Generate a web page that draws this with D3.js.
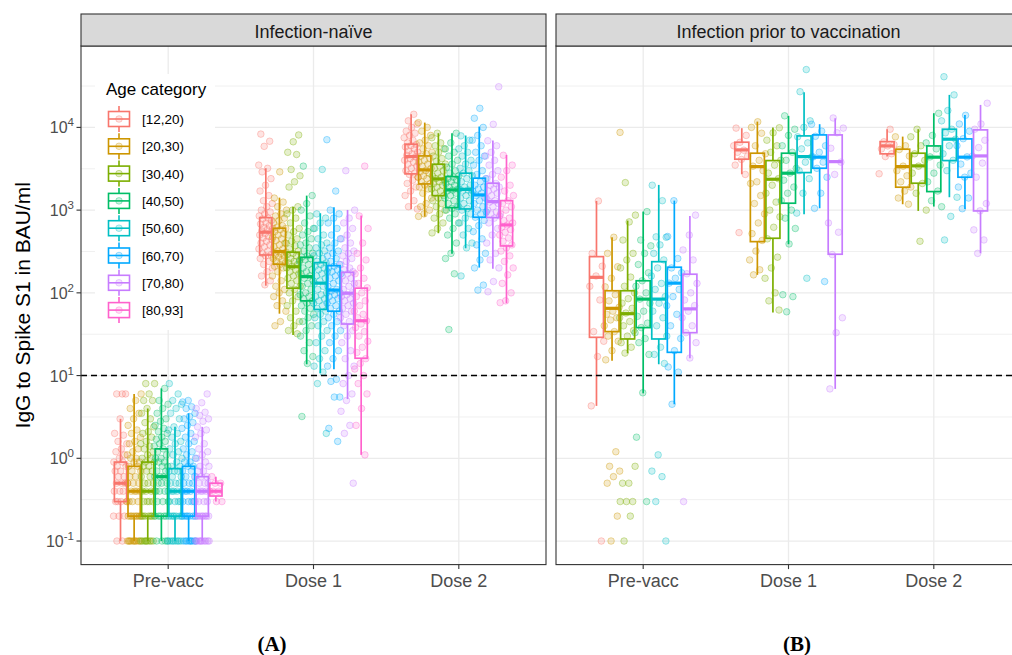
<!DOCTYPE html>
<html><head><meta charset="utf-8">
<script src="https://cdn.jsdelivr.net/npm/d3@7"></script>
<style>body{margin:0;background:#fff;} svg{display:block;font-family:"Liberation Sans",Arial,sans-serif;}</style>
</head><body><svg id="c" width="1012" height="655"></svg>
<script>
// ---------------- DATA ----------------
const ages = ["[12,20)","[20,30)","[30,40)","[40,50)","[50,60)","[60,70)","[70,80)","[80,93]"];
const times = ["Pre-vacc","Dose 1","Dose 2"];
const facets = ["Infection-naïve","Infection prior to vaccination"];
const panelTags = ["(A)","(B)"];
const ageColors = ["#F8766D","#CD9600","#7CAE00","#00BE67","#00BFC4","#00A9FF","#C77CFF","#FF61CC"];
const yTickValues = [0.1,1,10,100,1000,10000];
const yTickExp = ["-1","0","1","2","3","4"];
const threshold = 10;
const yTitle = "IgG to Spike S1 in BAU/ml";
const legendTitle = "Age category";

// box statistics [time][age]  (infection-naive, 8 age groups)
const naiveLo  = [[0.1,0.1,0.1,0.1,0.1,0.1,0.1,0.3],[122,56,31,13.7,10.7,11.9,5.2,1.1],[1026,834,526,296,346,202,195,75]];
const naiveQ1  = [[0.3,0.2,0.2,0.2,0.2,0.2,0.2,0.35],[287,222,114,80,63,60,42,16.2],[2741,2074,1496,1072,1033,820,812,369]];
const naiveMed = [[0.5,0.4,0.4,0.6,0.4,0.4,0.4,0.4],[541,316,207,157,131,108,99,46],[4436,3063,2384,1754,1780,1527,1268,662]];
const naiveQ3  = [[0.9,0.8,0.9,1.3,0.75,0.8,0.6,0.5],[811,604,310,269,232,213,177,114],[6266,4520,3589,2541,2794,2430,2115,1303]];
const naiveHi  = [[3,6,4,7,2.4,3.5,2.4,0.6],[3210,1416,1100,1497,917,1084,1005,859],[14450,11430,8510,8510,7980,10230,6920,4650]];

// box statistics [time][age]  (infection prior to vaccination, 7 age groups)
const priorLo  = [[4.3,15.1,18.6,6.1,13.7,4.5,16.2],[2716,165,58,387,892,1054,6.9],[4436,1178,978,1104,1432,1033,301]];
const priorQ1  = [[29,34,27.7,38,27.7,19.1,33],[4125,416,457,1212,2843,3210,293],[4790,1893,2115,1675,3970,2500,978]];
const priorMed = [[154,65,56,84,84,131,64],[5345,3357,2362,2794,4436,4365,3856],[5970,3357,3427,4365,7200,4365,4520]];
const priorQ3  = [[274,106,106,140,238,204,168],[6620,4875,3970,4875,7890,8110,8110],[6730,5450,4875,5970,9510,7260,9330]];
const priorHi  = [[1292,470,747,960,2018,1303,851],[9780,11750,9950,13770,26650,10930,12900],[9510,7740,9510,14850,24720,14160,18700]];

// individual observations (read approximately) [time][age]
const naivePts = [
 [
  [6,6,6,3,2,1.9,1.6,1.5,1.3,1.2,1.1,1,0.9,0.9,0.8,0.8,0.7,0.7,0.6,0.6,0.5,0.5,0.5,0.5,0.4,0.4,0.4,0.3,0.3,0.3,0.3,0.2,0.2,0.2,0.1,0.1],
  [6,5,4,3.5,3,2.5,2.2,2,1.8,1.6,1.5,1.3,1.2,1.1,1,1,0.9,0.9,0.8,0.8,0.7,0.7,0.6,0.6,0.5,0.5,0.5,0.4,0.4,0.4,0.4,0.3,0.3,0.3,0.3,0.2,0.2,0.2,0.2,0.2,0.2,0.2,0.2,0.1,0.1,0.1,0.1,0.1,0.1,0.1,0.1,0.1,0.1],
  [8,8,6,5,5,4,3.5,3,2.7,2.4,2.1,2,1.8,1.6,1.5,1.4,1.3,1.2,1.1,1,1,0.9,0.9,0.8,0.8,0.7,0.7,0.6,0.6,0.5,0.5,0.5,0.4,0.4,0.4,0.4,0.3,0.3,0.3,0.3,0.2,0.2,0.2,0.2,0.2,0.2,0.2,0.1,0.1,0.1,0.1,0.1,0.1,0.1,0.1,0.1],
  [7,5,4.5,4,3.5,3,2.8,2.5,2.3,2.1,2,1.8,1.7,1.6,1.5,1.4,1.3,1.2,1.1,1,1,0.9,0.9,0.8,0.8,0.7,0.7,0.6,0.6,0.6,0.5,0.5,0.5,0.4,0.4,0.4,0.3,0.3,0.3,0.2,0.2,0.2,0.2,0.2,0.1,0.1,0.1,0.1],
  [8,6,5,4.5,4,3.5,3,2.4,2.2,2,1.8,1.6,1.5,1.3,1.2,1.1,1,0.9,0.8,0.8,0.7,0.7,0.7,0.6,0.6,0.5,0.5,0.5,0.4,0.4,0.4,0.4,0.3,0.3,0.3,0.3,0.2,0.2,0.2,0.2,0.2,0.2,0.2,0.1,0.1,0.1,0.1,0.1,0.1,0.1,0.1],
  [5,4.8,4.2,4,3.5,3.2,3,2.7,2.5,2.3,2,1.8,1.6,1.5,1.3,1.2,1.1,1,0.9,0.9,0.8,0.8,0.7,0.7,0.6,0.6,0.5,0.5,0.5,0.4,0.4,0.4,0.4,0.3,0.3,0.3,0.3,0.2,0.2,0.2,0.2,0.2,0.2,0.2,0.1,0.1,0.1,0.1,0.1,0.1,0.1,0.1,0.1],
  [6,4.7,4,3.6,3.3,3,2.8,2.4,2.2,2,1.8,1.5,1.3,1.2,1.1,1,0.9,0.8,0.8,0.7,0.7,0.6,0.6,0.6,0.5,0.5,0.5,0.4,0.4,0.4,0.4,0.3,0.3,0.3,0.3,0.2,0.2,0.2,0.2,0.2,0.2,0.2,0.2,0.1,0.1,0.1,0.1,0.1,0.1,0.1,0.1,0.1,0.1],
  [0.6,0.5,0.5,0.4,0.4,0.4,0.3,0.3]
 ],
 [
  [8300,6800,5900,3500,3200,2900,2400,2000,1700,1500,1300,1200,1100,1000,950,900,850,800,780,750,700,680,650,620,600,580,560,540,520,500,480,460,440,420,400,380,360,340,320,300,290,280,260,240,220,200,180,160,140,125],
  [2900,1400,1250,1100,1000,900,850,800,750,700,650,620,600,580,550,520,500,470,450,430,400,380,360,340,320,310,300,290,280,270,260,250,240,230,220,210,200,180,160,140,120,110,100,90,80,70,60,45,40],
  [8100,6700,5000,4700,3100,2600,2200,1900,1100,1000,900,800,700,600,550,500,450,420,400,370,340,320,300,290,280,260,250,240,230,220,210,200,190,180,170,160,150,140,130,120,110,100,90,80,70,60,50,45,40,35,32],
  [3400,1500,1200,1000,850,700,600,550,500,450,400,380,350,320,300,280,270,260,250,240,220,200,190,180,170,160,150,140,130,120,110,100,95,90,85,80,75,70,65,60,55,50,45,40,35,30,25,20,17,14,3.2],
  [3100,900,800,700,600,500,450,400,380,350,320,300,280,260,240,230,220,210,200,190,180,170,160,150,140,130,120,110,100,95,90,85,80,75,70,65,60,55,50,45,40,35,30,25,20,16,13,11,8,2],
  [7100,1700,1000,900,800,700,600,500,450,400,350,320,300,280,260,240,220,210,200,190,180,170,160,150,140,130,120,110,105,100,95,90,85,80,75,70,65,60,55,50,45,40,35,30,25,20,16,13,9,8.5,5.5,5.5,2.3,1.6],
  [3000,1000,800,700,600,500,450,400,350,320,300,280,260,240,220,200,190,180,170,160,150,140,130,120,110,100,95,90,85,80,75,70,65,60,55,50,45,40,35,30,25,20,16,13,10,8,6,5,3.7,2.5,2,0.5],
  [3400,850,600,400,300,250,200,170,150,130,115,100,90,80,70,60,55,50,46,42,38,34,30,26,22,19,16,14,12,10,8,6,4,2.5,1.1]
 ],
 [
  [14400,12000,11000,10000,9000,8500,8000,7500,7000,6500,6200,6000,5800,5500,5200,5000,4800,4600,4400,4200,4000,3800,3600,3400,3200,3000,2800,2700,2500,2300,2100,1900,1700,1500,1300,1100,1030],
  [11400,10000,9000,8000,7000,6500,6000,5500,5000,4800,4500,4200,4000,3800,3600,3400,3200,3000,2900,2800,2600,2500,2400,2200,2100,2000,1900,1800,1600,1400,1200,1100,1000,900,840],
  [8500,7500,6500,6000,5500,5000,4500,4200,3900,3600,3400,3200,3000,2800,2600,2500,2400,2300,2200,2100,2000,1900,1800,1700,1600,1500,1400,1300,1200,1100,1000,900,800,700,600,530],
  [8500,6500,5500,5000,4500,4000,3600,3300,3000,2800,2600,2500,2400,2300,2200,2100,2000,1900,1800,1750,1700,1600,1500,1400,1300,1200,1100,1050,1000,900,800,700,600,500,400,300,260,170,36],
  [7900,7000,6000,5500,5000,4500,4000,3600,3200,3000,2800,2600,2400,2200,2000,1900,1800,1750,1700,1600,1500,1400,1300,1200,1100,1050,1000,900,800,700,600,500,400,350,160],
  [17000,12900,10000,8000,7000,6000,5000,4500,4000,3500,3000,2700,2400,2200,2000,1900,1800,1700,1600,1500,1400,1300,1200,1100,1000,950,900,820,750,650,550,450,380,300,250,200,124,108],
  [31000,10900,6900,6000,5000,4500,4000,3500,3000,2700,2400,2100,2000,1900,1800,1700,1600,1500,1400,1300,1250,1200,1100,1000,950,900,850,800,700,600,500,400,300,250,200,137,103],
  [4600,3500,3000,2500,2000,1700,1500,1300,1200,1100,1000,900,800,750,700,660,620,580,540,500,460,420,380,350,320,280,240,200,165,130,100,80,76]
 ]
];
const priorPts = [
 [
  [1290,300,210,160,120,82,34,26,17,4.3,0.1],
  [8700,470,300,207,150,118,95,80,67,60,55,50,47,40,34,30,26,20,15.5,1.2,0.8,0.7,0.6,0.5,0.2,0.1],
  [2150,870,720,435,300,250,200,155,120,100,85,75,65,57,50,45,40,35,30,25,22,18.7,0.8,0.5,0.5,0.3,0.3,0.3,0.2,0.1],
  [960,435,370,300,220,175,140,120,100,84,75,60,52,43,38,33,28,25,18,6.2,1.8,0.3],
  [2000,1300,475,470,380,300,250,200,160,130,110,90,75,60,50,40,30,22,18,14,1.1,0.7,0.6,0.3,0.1],
  [1300,480,260,200,175,150,131,110,90,70,55,40,28,20,12.7,11,4.5],
  [870,500,330,250,170,130,100,82,70,60,50,40,33,25,16.3,0.3]
 ],
 [
  [9800,8000,6600,6000,5300,5000,4500,4100,3500,2700,535],
  [11700,10000,8500,6000,4800,4000,3400,3000,2200,2100,1500,1200,900,700,520,430,320,250,190,165],
  [9900,8600,7000,6000,5000,4000,3500,2800,2400,2000,1600,1250,1000,830,620,450,270,200,150,100,80,62],
  [13800,9500,8000,6000,5000,4000,3200,2800,2300,1900,1600,1300,1000,800,600,390,95,90,59],
  [50000,27000,12000,10000,7700,6500,5500,4400,3800,3000,2400,1600,920,150],
  [10900,9000,7800,6000,5000,4400,3800,3200,2500,1600,1050,137],
  [13000,9800,8600,5600,3800,2700,700,540,290,50,33,6.9]
 ],
 [
  [9500,6700,6200,5970,5500,4800,4436,2750],
  [7700,6000,5400,4500,3400,3000,2600,2200,1900,1700,1400,1180],
  [9500,7700,6000,4800,4000,3400,2800,2100,1600,1000,420],
  [14800,8000,6500,5500,4400,3500,2800,2200,1700,1300,1100],
  [41000,24700,16000,12000,9500,8600,7200,6000,4800,4000,3000,1430,840,436],
  [14000,11000,9000,7300,6000,4400,3600,2800,2500,1900,1400,1040],
  [19600,11000,9500,7000,5700,4500,3700,2500,1200,980,577,436,300]
 ]
];

// ---------------- LAYOUT ----------------
const svg = d3.select("#c");
const panelTop = 46, panelBottom = 564.6;
const panelBoxes = [{left:81, right:546}, {left:556, right:1021}];
const stripTop = 14;
const tickCol = "#4D4D4D", borderCol = "#333333", gridCol = "#EBEBEB";

const allVals = naivePts.flat(2).concat(priorPts.flat(2));
const lmin = Math.log10(d3.min(allVals)), lmax = Math.log10(d3.max(allVals));
const ex = (lmax - lmin) * 0.05;
const y = d3.scaleLog().domain([Math.pow(10, lmin - ex), Math.pow(10, lmax + ex)]).range([panelBottom, panelTop]);

const facetData = [
  {lo:naiveLo,q1:naiveQ1,med:naiveMed,q3:naiveQ3,hi:naiveHi,pts:naivePts,n:8},
  {lo:priorLo,q1:priorQ1,med:priorMed,q3:priorQ3,hi:priorHi,pts:priorPts,n:7}
];

function jit(i, g, t) {
  const v = ((i + 1) * 0.6180339887 + g * 0.371 + t * 0.533) % 1;
  return v - 0.5;
}

facetData.forEach((fd, p) => {
  const pb = panelBoxes[p];
  const u = (pb.right - pb.left) / (times.length - 1 + 1.2);
  const x = d3.scalePoint().domain(times).range([pb.left + 0.6 * u, pb.right - 0.6 * u]);
  const gw = 0.75 * u, slot = gw / fd.n, bw = slot * 0.9;
  const gx = (t, g) => x(t) - gw / 2 + slot * (g + 0.5);
  const g = svg.append("g");

  g.append("rect").attr("x", pb.left).attr("y", panelTop).attr("width", pb.right - pb.left)
    .attr("height", panelBottom - panelTop).attr("fill", "#fff");

  const minor = [];
  for (let k = -2; k <= 5; k++) { const v = Math.pow(10, k + 0.5); if (v > y.domain()[0] && v < y.domain()[1]) minor.push(v); }
  g.selectAll(".mn").data(minor).join("line").attr("x1", pb.left).attr("x2", pb.right)
    .attr("y1", d => y(d)).attr("y2", d => y(d)).attr("stroke", "#F0F0F0").attr("stroke-width", 1);
  g.selectAll(".mj").data(yTickValues).join("line").attr("x1", pb.left).attr("x2", pb.right)
    .attr("y1", d => y(d)).attr("y2", d => y(d)).attr("stroke", gridCol).attr("stroke-width", 1.3);
  g.selectAll(".vx").data(times).join("line").attr("x1", d => x(d)).attr("x2", d => x(d))
    .attr("y1", panelTop).attr("y2", panelBottom).attr("stroke", gridCol).attr("stroke-width", 1.3);

  if (p === 0) {
    g.append("rect").attr("x", 95).attr("y", 74).attr("width", 120).attr("height", 256).attr("fill", "#fff");
  }

  // points
  times.forEach((t, ti) => {
    for (let a = 0; a < fd.n; a++) {
      const vals = fd.pts[ti][a];
      g.selectAll(null).data(vals).join("circle")
        .attr("cx", (d, i) => gx(t, a) + jit(i, a, ti) * slot * 1.05)
        .attr("cy", d => y(d)).attr("r", 3.3)
        .attr("fill", ageColors[a]).attr("fill-opacity", 0.2)
        .attr("stroke", ageColors[a]).attr("stroke-opacity", 0.4).attr("stroke-width", 0.9);
    }
  });

  // boxes
  times.forEach((t, ti) => {
    for (let a = 0; a < fd.n; a++) {
      const cx = gx(t, a), c = ageColors[a];
      const lo = fd.lo[ti][a], q1 = fd.q1[ti][a], md = fd.med[ti][a], q3 = fd.q3[ti][a], hi = fd.hi[ti][a];
      g.append("line").attr("x1", cx).attr("x2", cx).attr("y1", y(hi)).attr("y2", y(q3)).attr("stroke", c).attr("stroke-width", 1.7);
      g.append("line").attr("x1", cx).attr("x2", cx).attr("y1", y(q1)).attr("y2", y(lo)).attr("stroke", c).attr("stroke-width", 1.7);
      g.append("rect").attr("x", cx - bw / 2).attr("y", y(q3)).attr("width", bw).attr("height", Math.max(0, y(q1) - y(q3)))
        .attr("fill", "none").attr("stroke", c).attr("stroke-width", 1.7);
      g.append("line").attr("x1", cx - bw / 2).attr("x2", cx + bw / 2).attr("y1", y(md)).attr("y2", y(md)).attr("stroke", c).attr("stroke-width", 3.2);
    }
  });

  g.append("line").attr("x1", pb.left).attr("x2", pb.right).attr("y1", y(threshold)).attr("y2", y(threshold))
    .attr("stroke", "#000").attr("stroke-width", 1.5).attr("stroke-dasharray", "6,4");

  g.append("rect").attr("x", pb.left).attr("y", panelTop).attr("width", pb.right - pb.left)
    .attr("height", panelBottom - panelTop).attr("fill", "none").attr("stroke", borderCol).attr("stroke-width", 1.1);

  g.append("rect").attr("x", pb.left).attr("y", stripTop).attr("width", pb.right - pb.left).attr("height", panelTop - stripTop)
    .attr("fill", "#D9D9D9").attr("stroke", borderCol).attr("stroke-width", 1.1);
  g.append("text").attr("x", (pb.left + pb.right) / 2).attr("y", 37.5).attr("text-anchor", "middle")
    .attr("font-size", 18).attr("fill", "#1A1A1A").text(facets[p]);

  g.selectAll(".xt").data(times).join("line").attr("x1", d => x(d)).attr("x2", d => x(d))
    .attr("y1", panelBottom).attr("y2", panelBottom + 4.5).attr("stroke", borderCol).attr("stroke-width", 1.1);
  g.selectAll(".xl").data(times).join("text").attr("x", d => x(d)).attr("y", 587).attr("text-anchor", "middle")
    .attr("font-size", 18).attr("fill", tickCol).text(d => d);

  g.append("text").attr("x", p === 0 ? 272 : 797).attr("y", 651).attr("text-anchor", "middle")
    .attr("font-family", "'Liberation Serif','DejaVu Serif',serif").attr("font-weight", "bold")
    .attr("font-size", 21).attr("fill", "#000").text(panelTags[p]);

  if (p === 0) {
    g.selectAll(".yt").data(yTickValues).join("line").attr("x1", pb.left - 4.5).attr("x2", pb.left)
      .attr("y1", d => y(d)).attr("y2", d => y(d)).attr("stroke", borderCol).attr("stroke-width", 1.1);
    const yl = g.selectAll(".yl").data(yTickValues).join("text").attr("x", pb.left - 7).attr("y", d => y(d) + 6)
      .attr("text-anchor", "end").attr("font-size", 16).attr("fill", tickCol);
    yl.append("tspan").text("10");
    yl.append("tspan").attr("dy", -7).attr("font-size", 11.5).text((d, i) => yTickExp[i]);
    svg.append("text").attr("transform", `translate(30,${(panelTop + panelBottom) / 2}) rotate(-90)`)
      .attr("text-anchor", "middle").attr("font-size", 21).attr("fill", "#000").text(yTitle);

    const lg = svg.append("g");
    lg.append("text").attr("x", 106).attr("y", 95).attr("font-size", 17).attr("fill", "#000").text(legendTitle);
    ages.forEach((a, i) => {
      const cy = 119 + i * 27.3, c = ageColors[i];
      lg.append("line").attr("x1", 119).attr("x2", 119).attr("y1", cy - 13).attr("y2", cy + 13).attr("stroke", c).attr("stroke-width", 1.6);
      lg.append("rect").attr("x", 108.5).attr("y", cy - 7.5).attr("width", 21).attr("height", 15).attr("fill", "#fff").attr("stroke", c).attr("stroke-width", 1.6);
      lg.append("line").attr("x1", 108.5).attr("x2", 129.5).attr("y1", cy).attr("y2", cy).attr("stroke", c).attr("stroke-width", 1.6);
      lg.append("circle").attr("cx", 119).attr("cy", cy).attr("r", 3.3).attr("fill", c).attr("fill-opacity", 0.2)
        .attr("stroke", c).attr("stroke-opacity", 0.4).attr("stroke-width", 0.9);
      lg.append("text").attr("x", 142).attr("y", cy + 5).attr("font-size", 13.5).attr("fill", "#000").text(a);
    });
  }
});
</script></body></html>
